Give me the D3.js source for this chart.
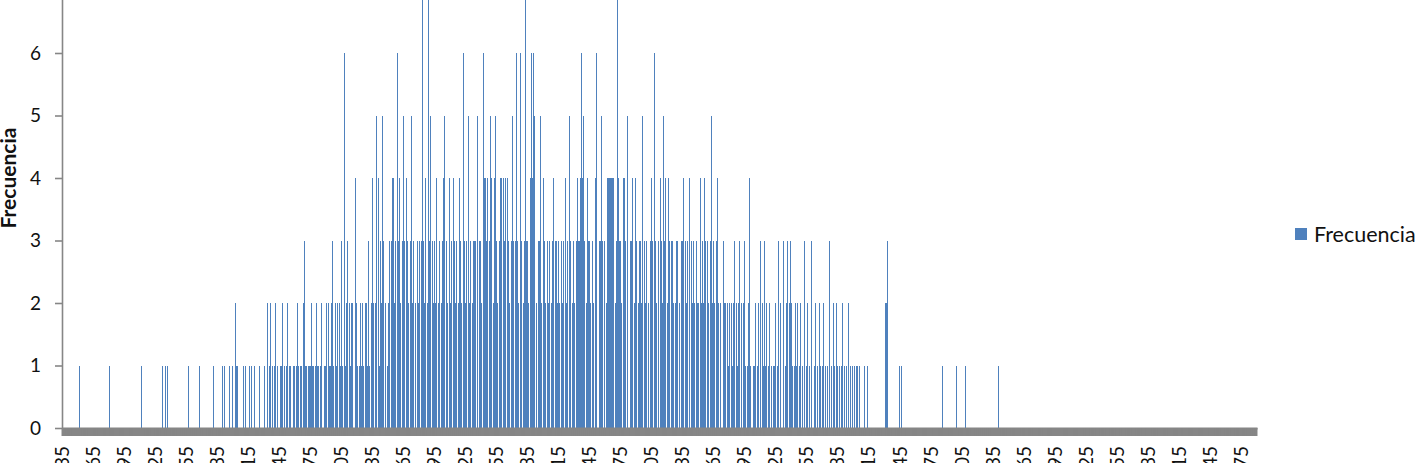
<!DOCTYPE html>
<html>
<head>
<meta charset="utf-8">
<script src="https://cdn.jsdelivr.net/npm/d3@7"></script>
<style>
  html, body { margin: 0; padding: 0; background: #fff; }
  svg { display: block; font-family: Lato, "Open Sans", sans-serif; }
</style>
</head>
<body>
<div id="chart"></div>
<script>
// ---- data ----
const binStart = 1035;           // first bin label
const labelEvery = 30;           // one x label every 30 bins
const yTicks = [0, 1, 2, 3, 4, 5, 6, 7, 8];
const seriesName = "Frecuencia";

// frequency per bin, 50 bins per row (spaces only for reading)
const freqRows = [
  "0000000000 0000001000 0000000000 0000000000 0000010000",
  "0000000000 0000000000 0000001000 0000000000 0000000100",
  "1010000000 0000000000 0010000000 0001000000 0000001000",
  "0000010100 0010100211 0000010100 0101001000 0100010020",
  "1201012010 0112010120 1101101210 1102311011 1211012110",
  "1201120211 2310212021 3106123021 2204210121 2102213102",
  "4202504132 5320123034 4230634203 5304320352 3203230373",
  "2402735032 3240230234 5320423043 2302432063 2305230233",
  "3503320644 3403540245 3203440434 4320353036 3206302373",
  "3204646502 3352043203 2302340332 3203230423 5302320343",
  "3464530243 3203204603 3530302444 4444023743 3204430503",
  "3402430233 2503230203 4306320343 2534024303 3202330203",
  "3403230432 3203220423 2430320352 3203420203 2202120212",
  "3021230202 3101241011 2012030213 1201201011 2013020301",
  "2302321012 1201201030 1201030120 1021012010 1030102102",
  "1010121010 2010101011 0100001001 0000000000 0000002230",
  "0000000000 1010000000 0000000000 0000000000 0000000000",
  "0100000000 0000010000 0000100000 0000000000 0000000000",
  "0000010000 0000000000 0000000000 0000000000 0000000000",
  "0000000000 0000000000 0000000000 0000000000 0000000000",
  "0000000000 0000000000 0000000000 0000000000 0000000000",
  "0000000000 0000000000 0000000000 0000000000 0000000000",
  "0000000000 0000000000 0000000000 0000000000 0000000000",
  "000000"
];
const frecuencia = freqRows.join("").replace(/ /g, "").split("").map(Number);
const bins = frecuencia.map((_, i) => binStart + i);

// ---- layout ----
const W = 1424, H = 475;
const plot = { left: 62, right: 1257, zero: 428, unit: 62.5 };
const AXIS = "#868686";
const BLUE = "#4f81bd";

const svg = d3.select("#chart").append("svg")
  .attr("width", W)
  .attr("height", H);

const x = d3.scaleBand()
  .domain(bins)
  .range([plot.left, plot.right]);

const y = d3.scaleLinear()
  .domain([0, 8])
  .range([plot.zero, plot.zero - 8 * plot.unit]);

// bars
svg.append("g")
  .attr("shape-rendering", "crispEdges")
  .selectAll("rect")
  .data(bins.map((b, i) => ({ bin: b, v: frecuencia[i] })).filter(d => d.v > 0))
  .join("rect")
  .attr("x", d => Math.round(x(d.bin)))
  .attr("width", 1)
  .attr("y", d => y(d.v))
  .attr("height", d => y(0) - y(d.v))
  .attr("fill", BLUE);

// y axis
const yAxis = svg.append("g")
  .attr("transform", `translate(${plot.left},0)`)
  .call(d3.axisLeft(y).tickValues(yTicks).tickSize(7).tickPadding(14).tickSizeOuter(0));
yAxis.select(".domain").attr("stroke", AXIS).attr("stroke-width", 1.6);
yAxis.selectAll(".tick line").attr("stroke", AXIS).attr("stroke-width", 1.6);
yAxis.selectAll(".tick text")
  .attr("font-size", 19)
  .attr("fill", "#111")
  .attr("font-family", "Lato, sans-serif");
// keep domain running to the top edge
yAxis.select(".domain").attr("d", `M0.5,${y(0)}V${-80}`);

// x axis: a tick on every bin gives the solid gray band
const xAxis = svg.append("g")
  .attr("transform", `translate(0,${plot.zero})`)
  .call(d3.axisBottom(x).tickSize(8).tickFormat("").tickSizeOuter(0));
xAxis.select(".domain").attr("stroke", AXIS).attr("stroke-width", 2);
xAxis.selectAll(".tick line").attr("stroke", AXIS).attr("stroke-width", 2);

// x labels, rotated, clipped at the bottom like the source
svg.append("defs").append("clipPath").attr("id", "labClip")
  .append("rect").attr("x", 0).attr("y", 0).attr("width", W).attr("height", 463);

svg.append("g")
  .attr("clip-path", "url(#labClip)")
  .selectAll("text")
  .data(bins.filter((b, i) => i % labelEvery === 0))
  .join("text")
  .attr("transform", d => `translate(${x(d) + x.bandwidth() / 2},446) rotate(-90)`)
  .attr("text-anchor", "end")
  .attr("dy", "0.35em")
  .attr("font-size", 19)
  .attr("fill", "#111")
  .text(d => d);

// y axis title
svg.append("text")
  .attr("transform", `translate(9,${(y(0) + y(8)) / 2}) rotate(-90)`)
  .attr("text-anchor", "middle")
  .attr("dy", "0.35em")
  .attr("font-size", 21)
  .attr("font-weight", "bold")
  .attr("fill", "#111")
  .text(seriesName);

// legend
const legend = svg.append("g").attr("transform", "translate(1295,228)");
legend.append("rect").attr("width", 12).attr("height", 12).attr("fill", BLUE);
legend.append("text")
  .attr("x", 19)
  .attr("y", 6)
  .attr("dy", "0.35em")
  .attr("font-size", 21.5)
  .attr("fill", "#111")
  .text(seriesName);
</script>
</body>
</html>
